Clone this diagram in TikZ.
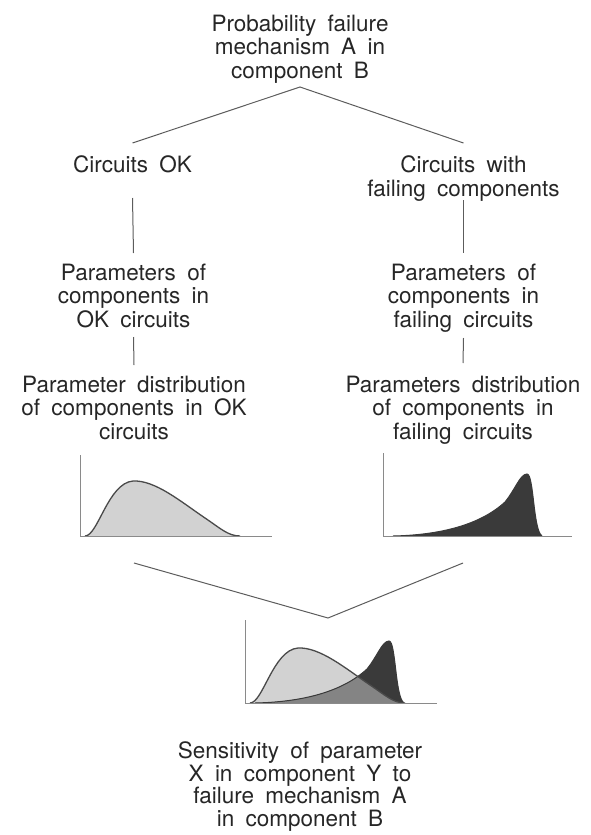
\documentclass[tikz,border=0pt]{standalone}
\usepackage{fontspec}
\setmainfont{TeX Gyre Heros}[WordSpace=1.8]
\definecolor{txt}{HTML}{262626}
\definecolor{linegray}{HTML}{5C5C5C}
\definecolor{axisgray}{HTML}{8A8A8A}
\definecolor{lightg}{HTML}{D2D2D2}
\definecolor{darkg}{HTML}{3A3A3A}
\definecolor{midg}{HTML}{848484}
\definecolor{outl}{HTML}{4A4A4A}
\newcommand\lightcurve{(5,0) .. controls (18,0) and (28,53) .. (53,55) .. controls (75,56) and (100,35) .. (125,18) .. controls (140,8) and (148,0) .. (160,0)}
\newcommand\darkcurve{(10,0) .. controls (57,1) and (97,11) .. (122,34) .. controls (132,46) and (137,62) .. (144,62) .. controls (151,62) and (150,6) .. (159,0)}
\begin{document}
\begin{tikzpicture}[x=1pt,y=-1pt,
  lbl/.style={align=center, inner sep=0pt, text=txt, anchor=north,
    font=\fontsize{22.5}{23.5}\selectfont},
  conn/.style={draw=linegray, line width=1pt},
  axisline/.style={draw=axisgray, line width=0.8pt},
  lightfill/.style={fill=lightg},
  darkfill/.style={fill=darkg},
  lightedge/.style={draw=outl, line width=1.3pt},
  darkedge/.style={draw=darkg, line width=1pt}]
\useasboundingbox (0,0) rectangle (591,835);

% text blocks
\node[lbl] (top) at (300,14.5) {Probability failure\\mechanism A in\\component B};
\node[lbl] (ok) at (132.5,155.5) {Circuits OK};
\node[lbl] (fail) at (463.5,155.5) {Circuits with\\failing components};
\node[lbl] (pok) at (133.5,263.5) {Parameters of\\components in\\OK circuits};
\node[lbl] (pfail) at (463.5,263.5) {Parameters of\\components in\\failing circuits};
\node[lbl] (dok) at (134,375.5) {Parameter distribution\\of components in OK\\circuits};
\node[lbl] (dfail) at (463,375.5) {Parameters distribution\\of components in\\failing circuits};
\node[lbl, font=\fontsize{22.5}{22.5}\selectfont] (sens) at (300,741.5)
  {Sensitivity of parameter\\X in component Y to\\failure mechanism A\\in component B};

% connectors
\coordinate (tv) at (top.south |- 0,87);
\draw[conn] (ok.north |- 0,143) -- (tv) -- (fail.north |- 0,143);
\draw[conn] (ok.south |- 0,198) -- (pok.north |- 0,253);
\draw[conn] (fail.south |- 0,200) -- (pfail.north |- 0,253);
\draw[conn] (pok.south |- 0,337) -- (dok.north |- 0,365);
\draw[conn] (pfail.south |- 0,338) -- (dfail.north |- 0,363);

% left plot
\begin{scope}[shift={(80,536)}, yscale=-1]
  \fill[lightfill] \lightcurve -- cycle;
  \draw[lightedge] \lightcurve;
  \draw[axisline] (0,81) -- (0,0) -- (192,0);
\end{scope}

% right plot
\begin{scope}[shift={(383,536)}, yscale=-1]
  \fill[darkfill] \darkcurve -- cycle;
  \draw[darkedge] \darkcurve;
  \draw[axisline] (0,83) -- (0,0) -- (189,0);
\end{scope}

% V connector to the combined plot
\coordinate (vl) at (dok.south |- 0,563);
\coordinate (vr) at (dfail.south |- 0,563);
\coordinate (vv) at (328,618);
\draw[conn] (vl) -- (vv) -- (vr);

% combined plot
\begin{scope}[shift={(245,703)}, yscale=-1]
  \fill[lightfill] \lightcurve -- cycle;
  \fill[darkfill] \darkcurve -- cycle;
  \begin{scope}
    \clip \lightcurve -- cycle;
    \fill[midg] \darkcurve -- cycle;
  \end{scope}
  \draw[darkedge] \darkcurve;
  \draw[lightedge] \lightcurve;
  \draw[axisline] (0,83) -- (0,0) -- (192,0);
\end{scope}
\end{tikzpicture}
\end{document}
